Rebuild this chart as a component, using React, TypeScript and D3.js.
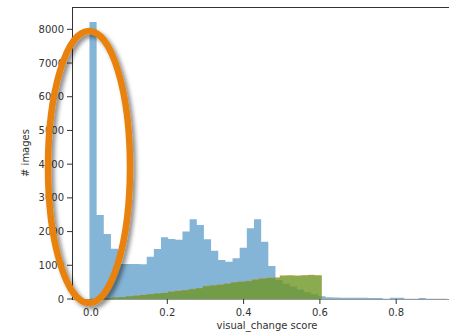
import { useEffect, useRef } from 'react';
import * as d3 from 'd3';

// blue histogram (all images), 50 bins
const blueStart = -0.004;
const blueBinWidth = 0.01875;
const blueCounts = [
  8220, 2490, 1930, 1490, 1040, 1040, 1040, 1030, 1255, 1484,
  1830, 1780, 1760, 2000, 2365, 2196, 1772, 1433, 1157, 1107,
  1208, 1522, 2098, 2365, 1700, 979, 560, 450, 370, 280,
  200, 140, 80, 50, 45, 40, 40, 35, 35, 30,
  30, 10, 40, 35, 10, 10, 30, 5, 5, 5,
];

// orange + green histograms, 33 bins from 0 to ~0.605
const subStart = 0;
const subBinWidth = 0.01833;
const orangeCounts = [
  5, 18, 32, 48, 62, 85, 104, 125, 148, 165,
  185, 222, 255, 270, 305, 330, 395, 410, 440, 460,
  505, 520, 545, 585, 615, 640, 645, 705, 712, 700,
  715, 722, 712,
];
const greenCounts = [
  5, 15, 30, 45, 60, 80, 100, 120, 140, 160,
  175, 215, 240, 260, 290, 320, 380, 400, 420, 450,
  490, 510, 530, 570, 600, 620, 630, 690, 700, 690,
  700, 710, 700,
];

const xTicks = [0.0, 0.2, 0.4, 0.6, 0.8];
const yTicks = [0, 1000, 2000, 3000, 4000, 5000, 6000, 7000, 8000];

const W = 449;
const H = 334;

const Histogram = () => {
  const svgRef = useRef<SVGSVGElement>(null);

  useEffect(() => {
    const svg = d3.select(svgRef.current);
    svg.selectAll('*').remove();

    const left = 72;
    const top = 7;
    const bottom = 299;
    const right = 462;

    const x = d3.scaleLinear().domain([0, 1]).range([91, 91 + 381.5]);
    const y = d3.scaleLinear().domain([0, 8662]).range([bottom, top]);

    const defs = svg.append('defs');
    const shadow = defs.append('filter')
      .attr('id', 'shadow')
      .attr('x', '-50%').attr('y', '-50%')
      .attr('width', '200%').attr('height', '200%');
    shadow.append('feDropShadow')
      .attr('dx', 3).attr('dy', 3)
      .attr('stdDeviation', 2.2)
      .attr('flood-color', '#000')
      .attr('flood-opacity', 0.45);

    const clip = defs.append('clipPath').attr('id', 'plot');
    clip.append('rect')
      .attr('x', left).attr('y', top)
      .attr('width', right - left).attr('height', bottom - top);

    const plot = svg.append('g').attr('clip-path', 'url(#plot)');

    // each histogram as one step area, so adjacent bins have no seams
    const area = d3.area<[number, number]>()
      .x(d => x(d[0]))
      .y0(y(0))
      .y1(d => y(d[1]))
      .curve(d3.curveStepAfter);

    const drawHist = (counts: number[], start: number, bw: number, color: string) => {
      const pts: [number, number][] = counts.map((c, i) => [start + i * bw, c]);
      pts.push([start + counts.length * bw, counts[counts.length - 1]]);
      plot.append('path')
        .attr('d', area(pts))
        .attr('fill', color)
        .attr('fill-opacity', 0.55);
    };

    drawHist(blueCounts, blueStart, blueBinWidth, '#1f77b4');
    drawHist(orangeCounts, subStart, subBinWidth, '#ff7f0e');
    drawHist(greenCounts, subStart, subBinWidth, '#2ca02c');

    // spines
    svg.append('line')
      .attr('x1', left).attr('x2', right)
      .attr('y1', top + 0.5).attr('y2', top + 0.5)
      .attr('stroke', '#333').attr('stroke-width', 1);
    svg.append('line')
      .attr('x1', left).attr('x2', right)
      .attr('y1', bottom + 0.5).attr('y2', bottom + 0.5)
      .attr('stroke', '#999').attr('stroke-width', 1);
    svg.append('line')
      .attr('x1', left + 0.5).attr('x2', left + 0.5)
      .attr('y1', top).attr('y2', bottom + 1)
      .attr('stroke', '#333').attr('stroke-width', 1);

    // y axis ticks
    const yAxis = svg.append('g');
    yTicks.forEach(t => {
      yAxis.append('line')
        .attr('x1', left - 5).attr('x2', left)
        .attr('y1', y(t)).attr('y2', y(t))
        .attr('stroke', '#333');
      yAxis.append('text')
        .attr('x', left - 8)
        .attr('y', y(t))
        .attr('dy', '0.35em')
        .style('text-anchor', 'end')
        .style('font-family', 'DejaVu Sans')
        .style('font-size', '10px')
        .style('fill', '#333')
        .text(String(t));
    });

    // x axis ticks
    const xAxis = svg.append('g');
    xTicks.forEach(t => {
      xAxis.append('line')
        .attr('x1', x(t)).attr('x2', x(t))
        .attr('y1', bottom).attr('y2', bottom + 5)
        .attr('stroke', '#333');
      xAxis.append('text')
        .attr('x', x(t))
        .attr('y', bottom + 17)
        .style('text-anchor', 'middle')
        .style('font-family', 'DejaVu Sans')
        .style('font-size', '10px')
        .style('fill', '#333')
        .text(t.toFixed(1));
    });

    // axis labels
    svg.append('text')
      .attr('transform', `translate(29, ${(top + bottom) / 2}) rotate(-90)`)
      .style('text-anchor', 'middle')
      .style('font-family', 'DejaVu Sans')
      .style('font-size', '10px')
      .style('fill', '#333')
      .text('# images');

    svg.append('text')
      .attr('x', (left + right) / 2)
      .attr('y', bottom + 30)
      .style('text-anchor', 'middle')
      .style('font-family', 'DejaVu Sans')
      .style('font-size', '10px')
      .style('fill', '#333')
      .text('visual_change score');

    // highlight ellipse
    svg.append('ellipse')
      .attr('cx', 89).attr('cy', 167)
      .attr('rx', 41).attr('ry', 136)
      .attr('fill', 'none')
      .attr('stroke', '#e8820f')
      .attr('stroke-width', 6.5)
      .attr('filter', 'url(#shadow)');
  }, []);

  return (
    <svg
      ref={svgRef}
      width={W}
      height={H}
      style={{ position: 'absolute', left: 0, top: 0, background: '#fff' }}
    />
  );
};

export default function App() {
  return <Histogram />;
}
